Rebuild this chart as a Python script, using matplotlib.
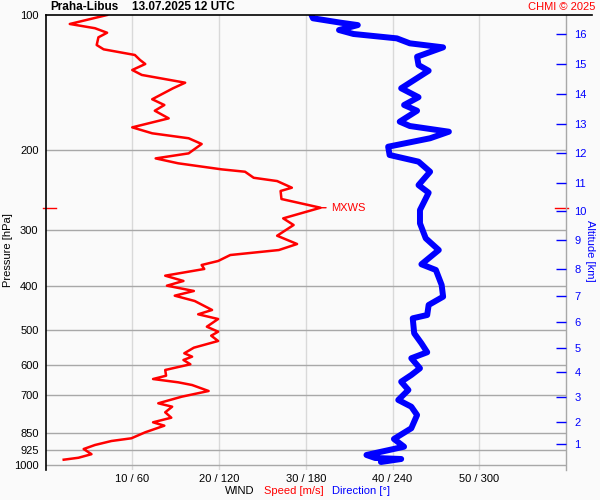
import numpy as np
import matplotlib.pyplot as plt
from matplotlib.ticker import NullLocator

plt.rcParams['font.family'] = ['Liberation Sans', 'DejaVu Sans']

# Wind speed profile (pressure hPa, speed m/s)
p_speed = [100, 104.7, 107.0, 109.5, 112.1, 116.6, 119.2, 122.7, 125.9, 128.5,
           132.5, 135.9, 141.4, 145.5, 153.9, 158.5, 163.2, 169.7, 177.7, 183.2,
           187.9, 193.5, 203.0, 208.3, 213.6, 220.3, 223.0, 230.0, 233.9, 242.0,
           246.1, 256.4, 268.1, 283.1, 292.9, 309.4, 322.8, 332.9, 341.5, 352.1,
           359.4, 366.8, 379.6, 390.0, 399.5, 410.5, 420.5, 432.1, 452.4, 462.5,
           473.8, 492.8, 505.6, 516.0, 530.2, 548.7, 564.6, 574.5, 584.3, 597.3,
           615.0, 633.3, 644.1, 655.1, 664.2, 684.8, 705.1, 729.3, 742.1, 763.7,
           785.1, 803.8, 817.8, 845.9, 872.3, 884.5, 902.8, 921.5, 946.2, 963.7,
           973.3]
speed = [7.1, 2.8, 5.7, 7.1, 6.1, 5.9, 6.7, 10.3, 10.9, 11.5,
         10.0, 11.1, 16.1, 14.7, 12.3, 13.7, 12.6, 14.2, 10.0, 12.3,
         16.5, 18.0, 16.5, 12.7, 15.3, 20.3, 23.0, 24.0, 26.7, 28.4,
         27.1, 27.2, 31.7, 27.4, 28.6, 26.7, 29.0, 26.9, 21.3, 19.9,
         18.0, 18.3, 13.8, 15.9, 14.0, 17.1, 14.9, 17.2, 19.2, 17.6,
         19.9, 18.6, 19.9, 19.1, 19.9, 17.1, 16.0, 16.9, 15.9, 16.7,
         13.8, 13.9, 12.4, 15.3, 16.9, 18.8, 15.7, 13.0, 14.6, 13.8,
         14.5, 12.4, 13.7, 11.5, 9.9, 7.6, 5.7, 4.4, 5.3, 3.8,
         2.1]

# Wind direction profile (pressure hPa, direction deg)
p_dir = [100, 101.7, 104.0, 105.3, 108.0, 110.2, 112.7, 115.6, 118.0, 123.8,
         129.2, 133.0, 145.5, 152.3, 158.5, 163.2, 172.6, 176.5, 181.7, 187.9,
         196.2, 204.7, 211.8, 223.0, 238.8, 248.3, 271.3, 290.4, 313.5, 332.9,
         358.1, 368.7, 398.1, 422.7, 441.0, 464.2, 472.1, 509.7, 536.5, 561.7,
         579.2, 609.7, 631.0, 653.1, 681.3, 717.0, 742.1, 774.4, 828.7, 875.4,
         910.7, 950.1, 964.8, 969.8, 984.8]
direction = [184, 185, 204, 216, 203, 213, 243, 252, 275, 257,
             258, 265, 246, 258, 248, 257, 245, 252, 279, 266,
             237, 238, 258, 266, 258, 265, 259, 259, 263, 272,
             260, 270, 274, 275, 265, 264, 254, 255, 260, 264,
             253, 259, 253, 246, 251, 244, 253, 257, 253, 241,
             248, 222, 228, 246, 232]

p_levels = [100, 200, 300, 400, 500, 600, 700, 850, 925, 1000]
speed_ticks = [10, 20, 30, 40, 50]

# pressure at each altitude mark (km)
alt_km = list(range(1, 17))
alt_p = [898, 804, 706, 621, 550, 481, 421, 366, 316, 273,
         236, 203, 175, 150, 128.5, 110.2]

bg = '#fafafa'
fig = plt.figure(figsize=(6, 5), dpi=100, facecolor=bg)
ax = fig.add_axes([45.5 / 600, 30 / 500, 520.5 / 600, 455 / 500])
ax.set_facecolor(bg)
ax.set_yscale('log')
ax.set_ylim(1026, 100)
ax.set_xlim(0, 60)

# grid
for s in speed_ticks:
    ax.axvline(s, color='#d9d9d9', lw=1, zorder=0)
for p in p_levels[1:]:
    ax.axhline(p, color='#a8a8a8', lw=1, zorder=0)

# data
ax.plot(np.array(direction) / 6.0, p_dir, color='blue', lw=4.3,
        solid_capstyle='round', solid_joinstyle='round', zorder=3)
ax.plot(speed, p_speed, color='red', lw=1.8, zorder=4)

# max wind marker
imax = int(np.argmax(speed))
pmax = p_speed[imax]
ax.annotate('MXWS', xy=(speed[imax], pmax), xytext=(7.5, 0),
            textcoords='offset points', ha='left', va='center',
            color='red', fontsize=8,
            arrowprops=dict(arrowstyle='-', color='red', lw=1,
                            shrinkA=1.5, shrinkB=0))
yt = ax.get_yaxis_transform()
ax.plot([-0.005, 0.02], [pmax, pmax], color='red', lw=1, transform=yt, clip_on=False)
ax.plot([0.979, 1.004], [pmax, pmax], color='red', lw=1, transform=yt, clip_on=False)

# top frame line
ax.plot([0, 1.05], [100, 100], color='black', lw=1.2, transform=yt, clip_on=False, zorder=5)

ax.set_yticks(p_levels)
ax.set_yticklabels([str(p) for p in p_levels])
ax.yaxis.set_minor_locator(NullLocator())
ax.set_xticks(speed_ticks)
ax.set_xticklabels([f"{s} / {s * 6}" for s in speed_ticks])
ax.tick_params(axis='y', length=0, pad=5, labelsize=8)
ax.tick_params(axis='x', length=0, pad=3, labelsize=8)

for side in ['top', 'bottom']:
    ax.spines[side].set_visible(False)
ax.spines['left'].set_color('black')
ax.spines['left'].set_linewidth(1.2)
ax.spines['right'].set_color('#a8a8a8')
ax.spines['right'].set_linewidth(1)

# altitude axis
ax2 = ax.twinx()
ax2.set_yscale('log')
ax2.set_ylim(ax.get_ylim())
ax2.set_yticks(alt_p)
ax2.set_yticklabels([str(k) for k in alt_km])
ax2.yaxis.set_minor_locator(NullLocator())
ax2.tick_params(axis='y', colors='blue', direction='in', length=7, width=1,
                pad=6, labelsize=8)
for side in ax2.spines:
    ax2.spines[side].set_visible(False)

# texts
fig.text(50 / 600, 1 - 7 / 500, 'Praha-Libus', weight='bold', va='center', fontsize=8.5)
fig.text(132 / 600, 1 - 7 / 500, '13.07.2025 12 UTC', weight='bold', va='center', fontsize=8.5)
fig.text(595 / 600, 1 - 7 / 500, 'CHMI © 2025', color='red', ha='right', va='center', fontsize=8)
fig.text(8 / 600, 1 - 250 / 500, 'Pressure [hPa]', rotation=90, ha='center', va='center', fontsize=8)
fig.text(590 / 600, 1 - 251 / 500, 'Altitude [km]', rotation=270, color='blue',
         ha='center', va='center', fontsize=8)
fig.text(225 / 600, 1 - 491 / 500, 'WIND', va='center', fontsize=8)
fig.text(264 / 600, 1 - 491 / 500, 'Speed [m/s]', color='red', va='center', fontsize=8)
fig.text(332 / 600, 1 - 491 / 500, 'Direction [°]', color='blue', va='center', fontsize=8)

fig.savefig('out.png', dpi=100, facecolor=bg)
